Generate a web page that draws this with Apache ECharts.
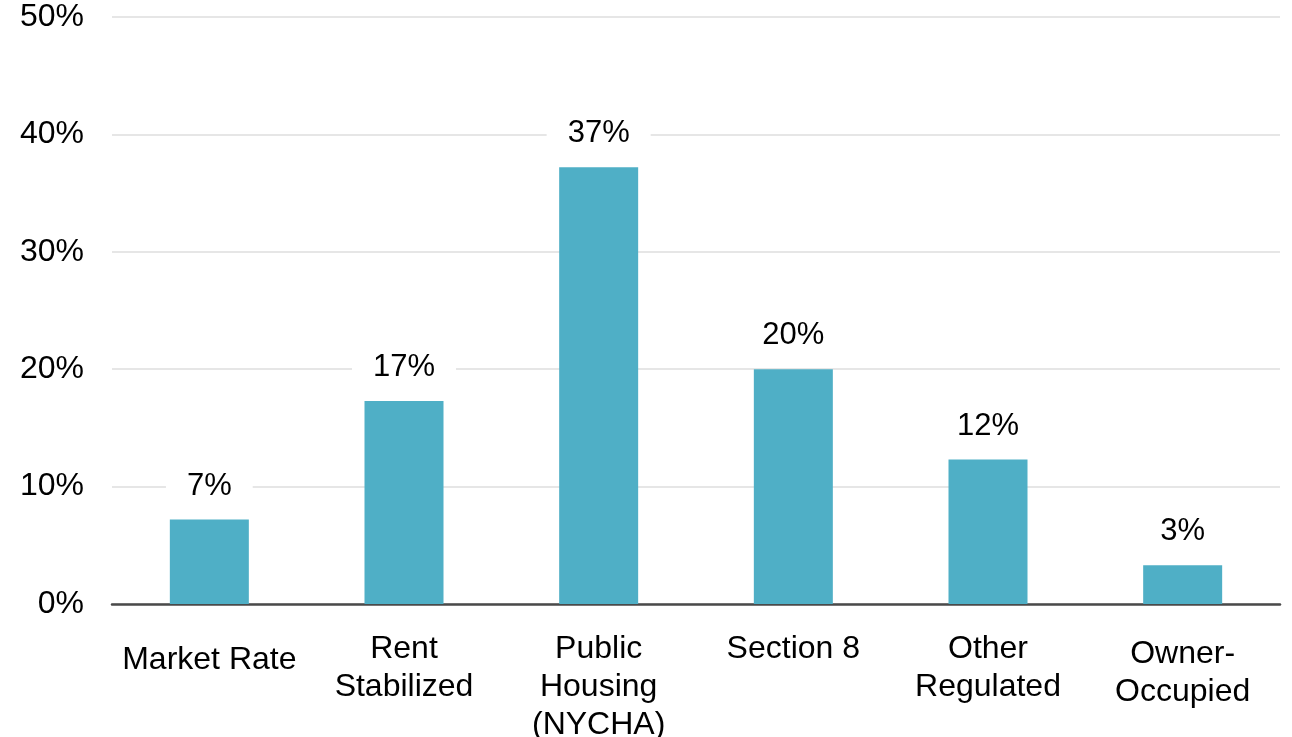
<!DOCTYPE html>
<html>
<head>
<meta charset="utf-8">
<script src="https://cdn.jsdelivr.net/npm/echarts@6/dist/echarts.min.js"></script>
<style>
html,body{margin:0;padding:0;background:#fff;}
#chart{width:1292px;height:737px;}
</style>
</head>
<body>
<div id="chart"></div>
<script>
var categories = ['Market Rate', 'Rent\nStabilized', 'Public\nHousing\n(NYCHA)', 'Section 8', 'Other\nRegulated', 'Owner-\nOccupied'];
var shares = [7.2, 17.3, 37.2, 20.0, 12.3, 3.3];
var yTicks = [0, 10, 20, 30, 40, 50];

// per-category vertical nudges of the axis label (layout only)
var labelNudge = {0: 11, 5: 5};

var axisData = categories.map(function (c, i) {
  return { value: c, textStyle: { padding: [labelNudge[i] || 0, 0, 0, 0] } };
});

var chart = echarts.init(document.getElementById('chart'));
chart.setOption({
  backgroundColor: '#ffffff',
  animation: false,
  textStyle: { fontFamily: 'Liberation Sans, Arial, sans-serif' },
  grid: { left: 112, right: 12, top: 17, bottom: 133, containLabel: false, outerBoundsMode: 'none' },
  xAxis: {
    type: 'category',
    data: axisData,
    axisLine: { show: true, lineStyle: { color: '#4a4a4a', width: 2.5 } },
    axisTick: { show: false },
    axisLabel: {
      interval: 0,
      color: '#000',
      fontSize: 32,
      lineHeight: 38,
      verticalAlign: 'top',
      margin: 26
    }
  },
  yAxis: {
    type: 'value',
    min: yTicks[0],
    max: yTicks[yTicks.length - 1],
    interval: 10,
    axisLine: { show: false },
    axisTick: { show: false },
    splitLine: { lineStyle: { color: '#e6e6e6', width: 2 } },
    axisLabel: {
      color: '#000',
      fontSize: 32,
      margin: 28,
      padding: [10, 0, 0, 0],
      formatter: function (v) { return v + '%'; }
    }
  },
  series: [{
    type: 'bar',
    data: shares,
    barWidth: 79,
    itemStyle: { color: '#4FAFC6' },
    label: {
      show: true,
      position: 'top',
      distance: 14,
      color: '#000',
      fontSize: 31,
      backgroundColor: '#ffffff',
      padding: [4, 21],
      formatter: function (p) { return Math.round(p.value) + '%'; }
    }
  }]
});
</script>
</body>
</html>
